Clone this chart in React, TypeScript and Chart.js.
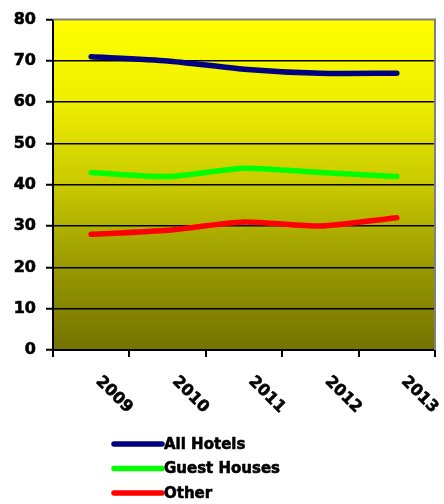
import React, { useEffect, useRef } from "react";
import { Chart, registerables } from "chart.js";

Chart.register(...registerables);

const years = ["2009", "2010", "2011", "2012", "2013"];
const allHotels = [71, 70, 68, 67, 67];
const guestHouses = [43, 42, 44, 43, 42];
const other = [28, 29, 31, 30, 32];
const yTicks = [0, 10, 20, 30, 40, 50, 60, 70, 80];

const FONT = "'DejaVu Sans', Verdana, sans-serif";
const TEXT_STROKE = 0.6;

// Yellow-to-olive fill behind the plot area, plus gray frame on top/right
const plotBackground = {
  id: "plotBackground",
  beforeDraw(chart: any) {
    const { ctx, chartArea: a } = chart;
    const g = ctx.createLinearGradient(0, a.top, 0, a.bottom);
    g.addColorStop(0, "#ffff00");
    g.addColorStop(0.25, "#eeee00");
    g.addColorStop(0.5, "#c9c900");
    g.addColorStop(0.75, "#989800");
    g.addColorStop(1, "#737300");
    ctx.save();
    ctx.fillStyle = g;
    ctx.fillRect(a.left, a.top, a.right - a.left, a.bottom - a.top);
    ctx.restore();
  },
  afterDatasetsDraw(chart: any) {
    const { ctx, chartArea: a } = chart;
    ctx.save();
    ctx.strokeStyle = "#808080";
    ctx.lineWidth = 2;
    ctx.beginPath();
    ctx.moveTo(a.left, a.top);
    ctx.lineTo(a.right, a.top);
    ctx.lineTo(a.right, a.bottom);
    ctx.stroke();
    ctx.restore();
  },
};

function heavyText(ctx: CanvasRenderingContext2D, text: string, x: number, y: number) {
  ctx.lineWidth = TEXT_STROKE;
  ctx.strokeStyle = "#000";
  ctx.lineJoin = "round";
  ctx.strokeText(text, x, y);
  ctx.fillStyle = "#000";
  ctx.fillText(text, x, y);
}

// Category labels turned 45° clockwise, hanging below each point
const slantedLabels = {
  id: "slantedLabels",
  afterDraw(chart: any) {
    const { ctx } = chart;
    const xs = chart.scales.x;
    ctx.save();
    ctx.font = `bold 16px ${FONT}`;
    ctx.textAlign = "left";
    ctx.textBaseline = "middle";
    (chart.data.labels as string[]).forEach((lab, i) => {
      const x = xs.getPixelForValue(i) + 7;
      const y = xs.top + 29;
      ctx.save();
      ctx.translate(x, y);
      ctx.rotate(Math.PI / 4);
      heavyText(ctx, lab, 0, 0);
      ctx.restore();
    });
    ctx.restore();
  },
};

// Stacked legend underneath the axis
const stackedLegend = {
  id: "stackedLegend",
  afterDraw(chart: any) {
    const { ctx } = chart;
    const x0 = 114;
    const x1 = 162;
    let y = 444;
    ctx.save();
    ctx.font = `bold 15px ${FONT}`;
    ctx.textAlign = "left";
    ctx.textBaseline = "middle";
    chart.data.datasets.forEach((ds: any) => {
      ctx.strokeStyle = ds.borderColor;
      ctx.lineWidth = 5.5;
      ctx.lineCap = "round";
      ctx.beginPath();
      ctx.moveTo(x0, y);
      ctx.lineTo(x1, y);
      ctx.stroke();
      heavyText(ctx, ds.label, x1 + 2, y + 1);
      y += 24.5;
    });
    ctx.restore();
  },
};

export default function App() {
  const ref = useRef<HTMLCanvasElement | null>(null);

  useEffect(() => {
    if (!ref.current) return;
    const mk = (label: string, data: number[], color: string) => ({
      label,
      data,
      borderColor: color,
      backgroundColor: color,
      borderWidth: 5.5,
      borderCapStyle: "round" as const,
      borderJoinStyle: "round" as const,
      pointRadius: 0,
      tension: 0.2,
      fill: false,
    });
    const chart = new Chart(ref.current, {
      type: "line",
      data: {
        labels: years,
        datasets: [
          mk("All Hotels", allHotels, "#000080"),
          mk("Guest Houses", guestHouses, "#00ff00"),
          mk("Other", other, "#ff0000"),
        ],
      },
      options: {
        animation: false,
        responsive: false,
        layout: { padding: { top: 16, right: 9, left: 0, bottom: 0 } },
        plugins: { legend: { display: false }, tooltip: { enabled: false } },
        scales: {
          x: {
            offset: true,
            grid: {
              offset: true,
              drawOnChartArea: false,
              drawTicks: true,
              tickLength: 7,
              tickColor: "#000",
              lineWidth: 2,
            },
            border: { display: true, color: "#000", width: 2 },
            ticks: { display: false },
            afterFit: (s: any) => {
              s.height = 154;
            },
          },
          y: {
            min: 0,
            max: 80,
            afterBuildTicks: (s: any) => {
              s.ticks = yTicks.map((v) => ({ value: v }));
            },
            grid: {
              color: (c: any) => (c.tick && c.tick.value === 80 ? "rgba(0,0,0,0)" : "#000"),
              lineWidth: 1.5,
              tickLength: 7,
              tickColor: "#000",
              tickWidth: 2,
            },
            border: { display: true, color: "#000", width: 2 },
            ticks: {
              padding: 10,
              color: "#000",
              textStrokeColor: "#000",
              textStrokeWidth: TEXT_STROKE,
              font: { family: FONT, size: 16, weight: "bold" },
            },
            afterFit: (s: any) => {
              s.width = 53;
            },
          },
        },
      },
      plugins: [plotBackground, slantedLabels, stackedLegend],
    });
    return () => chart.destroy();
  }, []);

  return (
    <div style={{ position: "fixed", left: 0, top: 0, width: 444, height: 504, background: "#fff" }}>
      <canvas ref={ref} width={444} height={504} style={{ width: 444, height: 504, display: "block" }} />
    </div>
  );
}
